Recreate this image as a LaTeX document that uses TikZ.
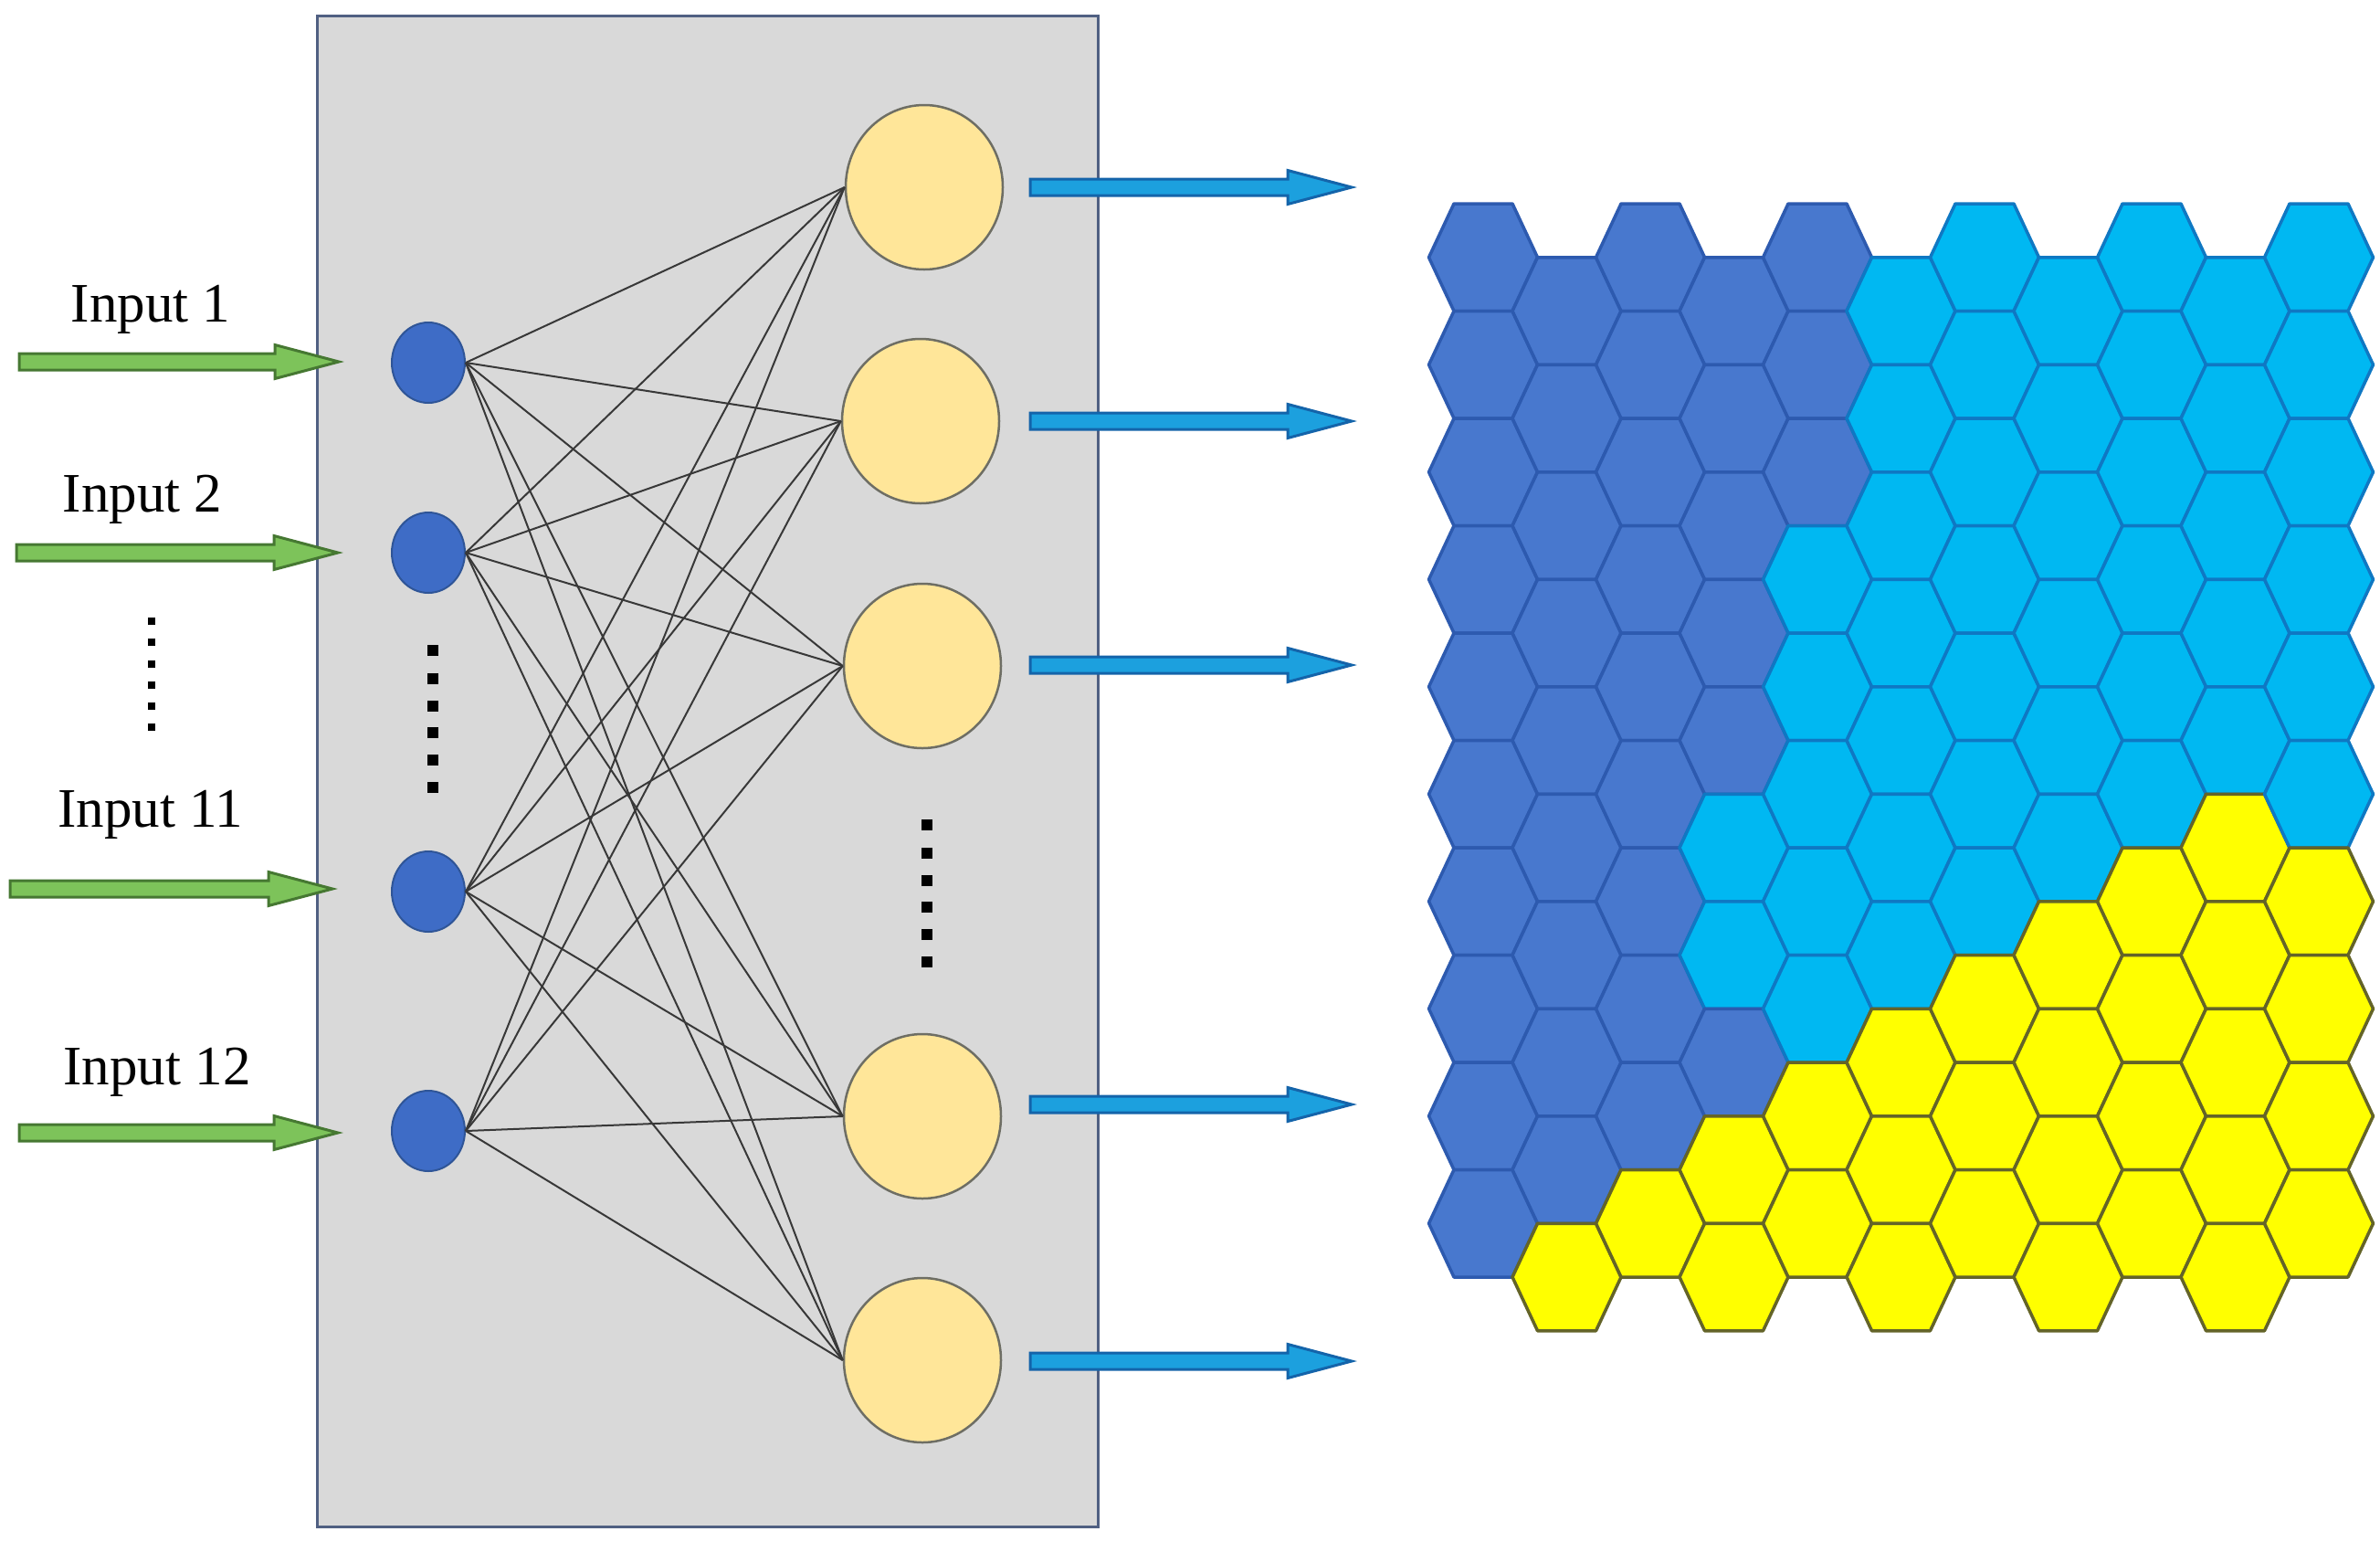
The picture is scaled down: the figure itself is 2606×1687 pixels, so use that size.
\documentclass[tikz,border=0pt]{standalone}
\usepackage{fontspec}
\setmainfont{Liberation Serif}
\usetikzlibrary{shapes.geometric,calc}

\definecolor{boxfill}{RGB}{217,217,217}
\definecolor{boxline}{RGB}{80,96,130}
\definecolor{innode}{RGB}{62,108,198}
\definecolor{innodeline}{RGB}{47,85,151}
\definecolor{outnode}{RGB}{255,230,153}
\definecolor{outnodeline}{RGB}{110,110,100}
\definecolor{garrow}{RGB}{125,195,90}
\definecolor{garrowline}{RGB}{70,120,50}
\definecolor{barrow}{RGB}{28,160,222}
\definecolor{barrowline}{RGB}{20,100,170}
\definecolor{hexfillD}{RGB}{72,120,206}
\definecolor{hexlineD}{RGB}{45,90,175}
\definecolor{hexfillL}{RGB}{0,184,242}
\definecolor{hexlineL}{RGB}{15,120,195}
\definecolor{hexfillY}{RGB}{255,255,0}
\definecolor{hexlineY}{RGB}{100,100,40}

\def\ashaft{9}\def\ahead{18.5}\def\alen{70}
\newcommand\blockarrow[3]{%
  \path[#3] ($(#1)+(0,-\ashaft)$) -- ($(#2)+(-\alen,-\ashaft)$) -- ($(#2)+(-\alen,-\ahead)$) -- (#2)
    -- ($(#2)+(-\alen,\ahead)$) -- ($(#2)+(-\alen,\ashaft)$) -- ($(#1)+(0,\ashaft)$) -- cycle;}

\tikzset{
  inneuron/.style={ellipse, fill=innode, draw=innodeline, line width=2, minimum width=80, minimum height=88, inner sep=0},
  outneuron/.style={ellipse, fill=outnode, draw=outnodeline, line width=2.5, minimum width=172, minimum height=180, inner sep=0},
  wire/.style={draw=black!78, line width=2},
  greenarrow/.style={fill=garrow, draw=garrowline, line width=3, line join=miter},
  bluearrow/.style={fill=barrow, draw=barrowline, line width=3, line join=miter},
  lbl/.style={font=\fontsize{61}{70}\selectfont, inner sep=0, anchor=base},
  hexcell/.style={line width=3.5, line join=round}
}

\begin{document}
\begin{tikzpicture}[x=1pt,y=-1pt]
\useasboundingbox (0,0) rectangle (2606,1687);
\fill[white] (0,0) rectangle (2606,1687);

% gray box
\path[fill=boxfill, draw=boxline, line width=3] (347,17) rectangle (1202,1671);

% neurons
\node[inneuron] (i1) at (469,397) {};
\node[inneuron] (i2) at (469,605) {};
\node[inneuron] (i3) at (469,976) {};
\node[inneuron] (i4) at (469,1238) {};
\node[outneuron] (o1) at (1012,205) {};
\node[outneuron] (o2) at (1008,461) {};
\node[outneuron] (o3) at (1010,729) {};
\node[outneuron] (o4) at (1010,1222) {};
\node[outneuron] (o5) at (1010,1489) {};

\foreach \i in {1,...,4}{
  \foreach \o in {1,...,5}{
    \draw[wire] (i\i.east) -- (o\o.west);
  }
}

% ellipsis dots
\foreach \y in {680,703,727,750,773,796} \fill[black] (162,\y-4) rectangle (170,\y+4);
\foreach \y in {712,743,773,802,832,862} \fill[black] (468,\y-6) rectangle (480,\y+6);
\foreach \y in {903,934,964,993,1023,1053} \fill[black] (1009,\y-6) rectangle (1021,\y+6);

% input labels
\node[lbl] (t1) at (165,352) {Input 1};
\node[lbl] (t2) at (156,560) {Input 2};
\node[lbl] (t3) at (165,905) {Input 11};
\node[lbl] (t4) at (172,1187) {Input 12};

% green input arrows
\coordinate (g1s) at (21,396);  \coordinate (g1t) at (371,396);
\coordinate (g2s) at (18,605);  \coordinate (g2t) at (370,605);
\coordinate (g3s) at (11,973);  \coordinate (g3t) at (364,973);
\coordinate (g4s) at (21,1240); \coordinate (g4t) at (370,1240);
\foreach \k in {1,...,4} {\blockarrow{g\k s}{g\k t}{greenarrow}}

% blue output arrows
\coordinate (b1s) at (1128,205);  \coordinate (b1t) at (1480,205);
\coordinate (b2s) at (1128,461);  \coordinate (b2t) at (1480,461);
\coordinate (b3s) at (1128,728);  \coordinate (b3t) at (1480,728);
\coordinate (b4s) at (1128,1209); \coordinate (b4t) at (1480,1209);
\coordinate (b5s) at (1128,1490); \coordinate (b5t) at (1480,1490);
\foreach \k in {1,...,5} {\blockarrow{b\k s}{b\k t}{bluearrow}}

% hexagonal map
\foreach \c/\cl in {
  0/{D,D,D,D,D,D,D,D,D,D},
  1/{D,D,D,D,D,D,D,D,D,Y},
  2/{D,D,D,D,D,D,D,D,D,Y},
  3/{D,D,D,D,D,L,L,D,Y,Y},
  4/{D,D,D,L,L,L,L,L,Y,Y},
  5/{L,L,L,L,L,L,L,Y,Y,Y},
  6/{L,L,L,L,L,L,L,Y,Y,Y},
  7/{L,L,L,L,L,L,Y,Y,Y,Y},
  8/{L,L,L,L,L,L,Y,Y,Y,Y},
  9/{L,L,L,L,L,Y,Y,Y,Y,Y},
  10/{L,L,L,L,L,L,Y,Y,Y,Y}}{
  \pgfmathsetmacro\hx{1624+91.5*\c}
  \pgfmathsetmacro\hy{mod(\c,2)==1 ? 340.5 : 281.75}
  \foreach \k [count=\r from 0] in \cl {
    \path[hexcell, fill=hexfill\k, draw=hexline\k]
      (\hx-59.5, \hy+117.5*\r) -- ++(27.5,-58.75) -- ++(64,0) -- ++(27.5,58.75)
      -- ++(-27.5,58.75) -- ++(-64,0) -- cycle;
  }
}
\end{tikzpicture}
\end{document}
